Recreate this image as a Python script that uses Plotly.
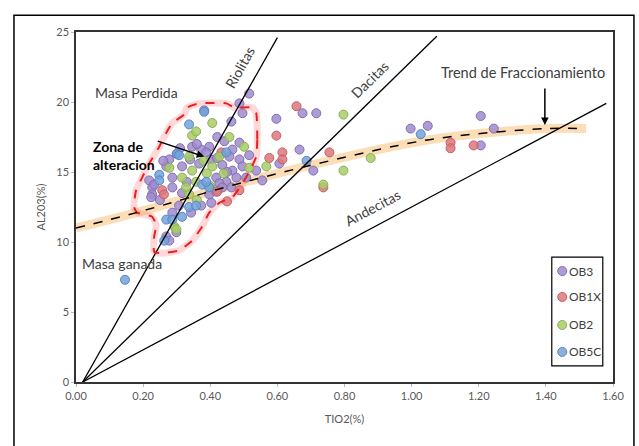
import plotly.graph_objects as go

# ---------------- data ----------------
ob3_x = [0.516, 0.382, 0.487, 0.496, 0.463, 0.421, 0.487, 0.442, 0.346, 0.397, 0.373, 0.466,
         0.278, 0.388, 0.457, 0.487, 0.516, 0.269, 0.316, 0.367, 0.436, 0.466, 0.496, 0.418,
         0.218, 0.287, 0.448, 0.478, 0.507, 0.427, 0.227, 0.287, 0.436, 0.463, 0.227, 0.316,
         0.397, 0.418, 0.307, 0.373, 0.403, 0.287, 0.343, 0.299, 0.269, 0.278, 0.34, 0.31,
         0.36, 0.40, 0.45, 0.33, 0.26, 0.30, 0.42, 0.25, 0.224, 0.233, 0.537,
         0.597, 0.675, 0.716, 0.666, 0.606, 0.707, 0.555, 0.997, 1.048, 1.206, 1.245, 1.206]
ob3_y = [20.6, 19.4, 19.9, 19.2, 18.6, 17.5, 17.1, 17.2, 16.8, 16.8, 16.6, 16.6,
         15.9, 16.4, 16.1, 15.9, 16.2, 15.4, 15.4, 15.6, 15.5, 15.1, 15.4, 14.6,
         14.4, 14.6, 14.3, 14.6, 14.6, 14.2, 13.9, 13.9, 13.9, 13.9, 13.4, 13.5,
         13.4, 13.6, 12.6, 12.6, 12.8, 12.1, 12.1, 10.7, 10.4, 10.1, 15.9, 16.7,
         17.0, 15.9, 15.0, 14.3, 15.8, 16.3, 16.0, 13.0, 13.2, 14.1, 15.1,
         18.8, 19.2, 19.2, 16.6, 15.6, 15.1, 14.4, 18.1, 18.3, 19.0, 18.1, 16.9]

ob1x_x = [0.257, 0.262, 0.433, 0.421, 0.487, 0.45,
          0.657, 0.597, 0.755, 0.615, 0.615, 0.576, 0.737, 1.116, 1.116, 1.185]
ob1x_y = [13.7, 13.4, 16.4, 13.6, 13.7, 12.9,
          19.7, 17.6, 16.4, 16.4, 15.9, 16.0, 13.9, 17.1, 16.7, 16.9]

ob2_x = [0.406, 0.346, 0.358, 0.457, 0.501, 0.337, 0.427, 0.278, 0.346, 0.406, 0.516, 0.316,
         0.358, 0.328, 0.337, 0.293, 0.299, 0.38, 0.39, 0.36, 0.44, 0.40,
         0.797, 0.567, 0.878, 0.797, 0.737]
ob2_y = [18.5, 17.6, 17.9, 17.5, 16.8, 16.1, 16.1, 15.3, 15.1, 15.4, 15.3, 14.6,
         14.3, 13.9, 13.4, 11.1, 10.9, 15.8, 14.9, 13.0, 14.9, 14.0,
         19.1, 15.4, 16.0, 15.1, 14.1]

ob5c_x = [0.382, 0.337, 0.301, 0.307, 0.448, 0.248, 0.248, 0.376, 0.397, 0.388, 0.337, 0.358,
          0.269, 0.316, 0.263, 0.287, 0.687, 1.027, 0.146]
ob5c_y = [19.3, 18.4, 16.3, 16.2, 16.4, 14.8, 14.4, 14.1, 13.9, 14.3, 12.5, 12.6,
          11.6, 11.8, 10.1, 11.6, 15.8, 17.7, 7.3]

# reference lines (start, end)
riolitas_x = [0.02, 0.60]
riolitas_y = [0.0, 24.6]
dacitas_x = [0.02, 1.075]
dacitas_y = [0.0, 24.7]
andecitas_x = [0.02, 1.58]
andecitas_y = [0.0, 19.9]

# fractionation trend (read points)
trend_x = [0.0, 0.18, 0.52, 0.96, 1.11, 1.40, 1.52]
trend_y = [11.0, 12.1, 14.4, 16.9, 17.5, 18.1, 18.1]

# alteration zone outline
zone_x = [0.537, 0.540, 0.537, 0.516, 0.496, 0.466, 0.427, 0.397, 0.376, 0.346, 0.307, 0.257,
          0.233, 0.233, 0.239, 0.227, 0.182, 0.173, 0.179, 0.197, 0.218, 0.248, 0.269, 0.287,
          0.322, 0.331, 0.367, 0.448, 0.472, 0.525, 0.537]
zone_y = [19.2, 17.3, 16.1, 15.0, 14.2, 13.2, 12.8, 12.1, 11.1, 10.1, 9.4, 9.2,
          9.3, 10.4, 11.2, 11.8, 12.1, 12.5, 13.7, 14.6, 15.6, 16.8, 17.8, 18.5,
          19.1, 19.6, 19.9, 19.9, 19.6, 19.6, 19.2]

series_names = ["OB3", "OB1X", "OB2", "OB5C"]
fill_colors = ["rgba(160,140,205,0.85)", "rgba(222,120,125,0.85)", "rgba(168,204,105,0.85)", "rgba(115,162,218,0.85)"]
line_colors = ["rgb(130,110,180)", "rgb(195,95,100)", "rgb(140,175,80)", "rgb(85,135,195)"]
series_x = [ob3_x, ob1x_x, ob2_x, ob5c_x]
series_y = [ob3_y, ob1x_y, ob2_y, ob5c_y]

FONT = "Lato, 'Open Sans', sans-serif"

fig = go.Figure()

fig.add_trace(go.Scatter(x=trend_x, y=trend_y, mode="lines", line=dict(color="rgba(250,190,110,0.5)", width=9, shape="spline"),
                         showlegend=False, hoverinfo="skip"))
fig.add_trace(go.Scatter(x=zone_x, y=zone_y, mode="lines", line=dict(color="rgba(255,80,80,0.22)", width=7, shape="spline", smoothing=0.5),
                         showlegend=False, hoverinfo="skip"))

for name, xs, ys, fc, lc in zip(series_names, series_x, series_y, fill_colors, line_colors):
    fig.add_trace(go.Scatter(x=xs, y=ys, mode="markers", name=name, showlegend=False,
                             marker=dict(size=9, color=fc, line=dict(color=lc, width=1))))

for xs, ys in [(riolitas_x, riolitas_y), (dacitas_x, dacitas_y), (andecitas_x, andecitas_y)]:
    fig.add_trace(go.Scatter(x=xs, y=ys, mode="lines", line=dict(color="black", width=1.3),
                             showlegend=False, hoverinfo="skip"))

fig.add_trace(go.Scatter(x=zone_x, y=zone_y, mode="lines", line=dict(color="rgb(235,30,30)", width=2, dash="dash", shape="spline", smoothing=0.5),
                         showlegend=False, hoverinfo="skip"))
fig.add_trace(go.Scatter(x=trend_x, y=trend_y, mode="lines", line=dict(color="black", width=1.5, dash="dash", shape="spline"),
                         showlegend=False, hoverinfo="skip"))

ann_font = dict(family=FONT, size=14, color="#404040")
annotations = [
    dict(x=0.18, y=20.7, text="Masa Perdida", showarrow=False, font=ann_font),
    dict(x=0.487, y=22.5, text="Riolitas", showarrow=False, textangle=-61, font=ann_font),
    dict(x=0.875, y=21.6, text="Dacitas", showarrow=False, textangle=-44.5, font=ann_font),
    dict(x=0.884, y=12.5, text="Andecitas", showarrow=False, textangle=-28, font=ann_font),
    dict(x=1.331, y=22.1, text="Trend de Fraccionamiento", showarrow=False, font=dict(family=FONT, size=14.5, color="#404040")),
    dict(x=1.397, y=18.35, ax=0, ay=-38, text="", showarrow=True, arrowhead=2, arrowsize=1, arrowwidth=1.5, arrowcolor="black"),
    dict(x=0.046, y=16.2, xanchor="left", text="<b>Zona de<br>alteracion</b>", showarrow=False, align="left",
         font=dict(family=FONT, size=14, color="black")),
    dict(x=0.382, y=16.1, ax=-48, ay=-16, text="", showarrow=True, arrowhead=2, arrowsize=1, arrowwidth=1.5, arrowcolor="black"),
    dict(x=0.137, y=8.5, text="Masa ganada", showarrow=False, font=ann_font),
]

# manual legend (paper coordinates)
leg_y = [0.317, 0.243, 0.163, 0.086]
shapes = [
    dict(type="rect", xref="paper", yref="paper", x0=-0.1155, x1=1.039, y0=-0.2, y1=1.048,
         line=dict(color="black", width=1.5), fillcolor="rgba(0,0,0,0)", layer="above"),
    dict(type="rect", xref="paper", yref="paper", x0=0.886, x1=0.981, y0=0.046, y1=0.357,
         line=dict(color="black", width=1.2), fillcolor="white", layer="above"),
]
for ly, fc, lc, name in zip(leg_y, fill_colors, line_colors, series_names):
    shapes.append(dict(type="circle", xref="paper", yref="paper", x0=0.9055 - 0.0084, x1=0.9055 + 0.0084,
                       y0=ly - 0.0129, y1=ly + 0.0129, fillcolor=fc, line=dict(color=lc, width=1), layer="above"))
    annotations.append(dict(xref="paper", yref="paper", x=0.915, y=ly, xanchor="left", yanchor="middle",
                            text=name, showarrow=False,
                            font=dict(family=FONT, size=12, color="#404040")))

fig.update_layout(
    width=639, height=446,
    margin=dict(l=76, r=26, t=32, b=64),
    paper_bgcolor="white", plot_bgcolor="white",
    font=dict(family=FONT, size=11, color="#595959"),
    annotations=annotations,
    showlegend=False,
    shapes=shapes,
)
fig.update_xaxes(range=[0, 1.6], dtick=0.2, tickformat=".2f", showgrid=False, zeroline=False,
                 showline=True, linecolor="#333333", linewidth=1.5, mirror=True,
                 ticks="outside", ticklen=3, tickcolor="#bbbbbb",
                 title=dict(text="TIO2(%)", font=dict(family=FONT, size=11, color="#595959"), standoff=14))
fig.update_yaxes(range=[0, 25], dtick=5, showgrid=False, zeroline=False,
                 showline=True, linecolor="#333333", linewidth=1.5, mirror=True,
                 ticks="outside", ticklen=3, tickcolor="#bbbbbb",
                 title=dict(text="AL203(%)", font=dict(family=FONT, size=11, color="#595959"), standoff=8))

fig.write_html("out.html", config={"displayModeBar": False},
               post_script="document.body.style.margin='0';document.body.style.padding='0';")
